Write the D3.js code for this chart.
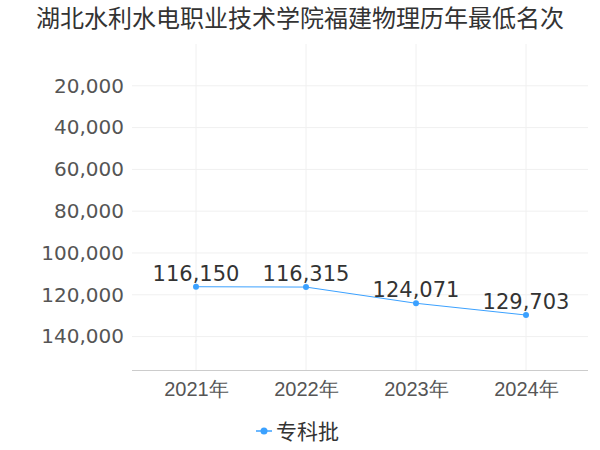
<!DOCTYPE html>
<html><head><meta charset="utf-8">
<script src="https://cdn.jsdelivr.net/npm/d3@7"></script>
<style>body{margin:0;background:#fff;font-family:"Noto Sans CJK SC","Noto Sans",sans-serif;}</style>
</head><body><div id="chart"></div>
<script>
const title = '湖北水利水电职业技术学院福建物理历年最低名次';
const years = ['2021年', '2022年', '2023年', '2024年'];
const ranks = [116150, 116315, 124071, 129703];
const yTicks = [20000, 40000, 60000, 80000, 100000, 120000, 140000];
const seriesName = '专科批';
const color = '#3ba1ff';

const svg = d3.select('#chart').append('svg').attr('width', 600).attr('height', 450);

svg.append('text').attr('x', 300).attr('y', 27).attr('text-anchor', 'middle')
  .attr('font-size', 24).attr('fill', '#333').text(title);

const x = d3.scalePoint().domain(years).range([196, 526]);
const y = d3.scaleLinear().domain([0, 156000]).range([44, 370]);

// grid
svg.append('g').selectAll('line').data(yTicks).enter().append('line')
  .attr('x1', 132).attr('x2', 588).attr('y1', d => y(d)).attr('y2', d => y(d))
  .attr('stroke', '#f0f0f0');
svg.append('g').selectAll('line').data(years).enter().append('line')
  .attr('x1', d => x(d)).attr('x2', d => x(d)).attr('y1', 44).attr('y2', 370)
  .attr('stroke', '#f0f0f0');

// axes
const yAxis = svg.append('g').attr('transform', 'translate(132,0)')
  .call(d3.axisLeft(y).tickValues(yTicks).tickSize(0).tickPadding(8).tickFormat(d3.format(',')));
yAxis.select('.domain').remove();
yAxis.selectAll('text').attr('font-size', 20).attr('fill', '#555').attr('font-family', '"DejaVu Sans",sans-serif');

const xAxis = svg.append('g').attr('transform', 'translate(0,370)')
  .call(d3.axisBottom(x).tickSize(0).tickPadding(12));
xAxis.select('.domain').remove();
xAxis.selectAll('text').attr('font-size', 20).attr('fill', '#555');
svg.append('line').attr('x1', 132).attr('x2', 588).attr('y1', 370.5).attr('y2', 370.5).attr('stroke', '#ccc');

// line
svg.append('path').datum(ranks)
  .attr('d', d3.line().x((d, i) => x(years[i])).y(d => y(d)))
  .attr('fill', 'none').attr('stroke', color).attr('stroke-width', 1);
svg.append('g').selectAll('circle').data(ranks).enter().append('circle')
  .attr('cx', (d, i) => x(years[i])).attr('cy', d => y(d)).attr('r', 3).attr('fill', color);
svg.append('g').selectAll('text').data(ranks).enter().append('text')
  .attr('x', (d, i) => x(years[i])).attr('y', d => y(d) - 6).attr('text-anchor', 'middle')
  .attr('font-size', 21).attr('fill', '#333').attr('font-family', '"DejaVu Sans",sans-serif')
  .text(d3.format(','));

// legend
const lg = svg.append('g').attr('transform', 'translate(264,431)');
lg.append('line').attr('x1', -8).attr('x2', 8).attr('stroke', color).attr('stroke-width', 1.5);
lg.append('circle').attr('r', 3.5).attr('fill', color);
lg.append('text').attr('x', 12).attr('y', 8).attr('font-size', 21).attr('fill', '#333').text(seriesName);
</script></body></html>
